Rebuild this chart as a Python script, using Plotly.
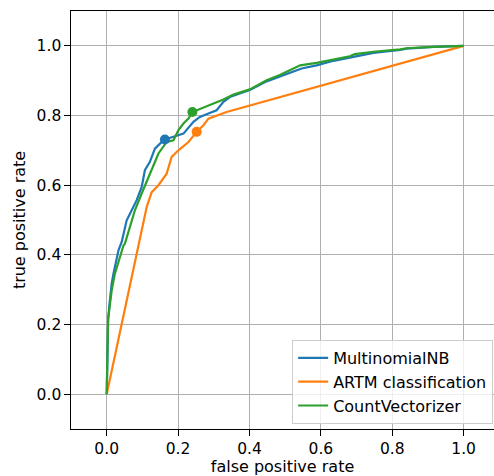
import plotly.graph_objects as go

# ---- data ----
nb_fpr = [0.0, 0.002, 0.004, 0.007, 0.010, 0.014, 0.019, 0.024, 0.028, 0.033, 0.042, 0.047,
          0.056, 0.070, 0.084, 0.098, 0.107, 0.121, 0.135, 0.150, 0.163, 0.187, 0.215, 0.243,
          0.261, 0.285, 0.308, 0.327, 0.345, 0.373, 0.401, 0.448, 0.485, 0.520, 0.546, 0.588,
          0.635, 0.681, 0.747, 0.822, 0.840, 0.915, 1.0]
nb_tpr = [0.0, 0.183, 0.210, 0.250, 0.290, 0.318, 0.346, 0.370, 0.394, 0.413, 0.437, 0.461,
          0.499, 0.528, 0.557, 0.595, 0.643, 0.667, 0.705, 0.720, 0.731, 0.739, 0.748, 0.782,
          0.796, 0.806, 0.815, 0.839, 0.853, 0.863, 0.873, 0.898, 0.912, 0.925, 0.935, 0.944,
          0.957, 0.966, 0.980, 0.988, 0.992, 0.997, 1.0]

artm_fpr = [0.0, 0.082, 0.093, 0.103, 0.112, 0.126, 0.145, 0.168, 0.182, 0.201, 0.229, 0.252,
            0.271, 0.285, 0.299, 0.308, 0.336, 1.0]
artm_tpr = [0.0, 0.400, 0.451, 0.499, 0.537, 0.580, 0.600, 0.633, 0.681, 0.700, 0.724, 0.753,
            0.772, 0.791, 0.796, 0.801, 0.810, 1.0]

cv_fpr = [0.0, 0.002, 0.004, 0.007, 0.010, 0.014, 0.023, 0.030, 0.037, 0.047, 0.051, 0.065,
          0.079, 0.098, 0.121, 0.145, 0.168, 0.187, 0.201, 0.215, 0.229, 0.240, 0.327, 0.355,
          0.401, 0.448, 0.485, 0.542, 0.588, 0.635, 0.681, 0.695, 0.747, 0.822, 0.840, 0.915, 1.0]
cv_tpr = [0.0, 0.193, 0.220, 0.240, 0.270, 0.298, 0.346, 0.370, 0.394, 0.427, 0.432, 0.480,
          0.528, 0.576, 0.633, 0.691, 0.724, 0.729, 0.758, 0.777, 0.791, 0.810, 0.846, 0.860,
          0.875, 0.901, 0.916, 0.944, 0.951, 0.961, 0.970, 0.976, 0.983, 0.990, 0.993, 0.997, 1.0]

names = ["MultinomialNB", "ARTM classification", "CountVectorizer"]
colors = ["#1f77b4", "#ff7f0e", "#2ca02c"]
point_fpr = [0.163, 0.252, 0.240]
point_tpr = [0.731, 0.753, 0.810]
ticks = [0.0, 0.2, 0.4, 0.6, 0.8, 1.0]
tick_text = ["0.0", "0.2", "0.4", "0.6", "0.8", "1.0"]

FONT = "DejaVu Sans"
fig = go.Figure()
for xs, ys, nm, c in zip([nb_fpr, artm_fpr, cv_fpr], [nb_tpr, artm_tpr, cv_tpr], names, colors):
    fig.add_trace(go.Scatter(x=xs, y=ys, mode="lines", name=nm,
                             line=dict(color=c, width=2.2)))
for px_, py_, c in zip(point_fpr, point_tpr, colors):
    fig.add_trace(go.Scatter(x=[px_], y=[py_], mode="markers", showlegend=False,
                             marker=dict(color=c, size=10)))

axis_common = dict(
    tickvals=ticks, ticktext=tick_text, ticks="outside", ticklen=5.5, tickwidth=1.3,
    tickcolor="black", showline=True, linecolor="black", linewidth=1.3,
    showgrid=True, gridcolor="#b0b0b0", gridwidth=1.3, zeroline=False,
    tickfont=dict(family=FONT, size=15.5, color="black"),
)
fig.update_layout(
    width=494, height=476,
    margin=dict(l=71, r=0, t=11, b=47),
    plot_bgcolor="white", paper_bgcolor="white",
    font=dict(family=FONT, size=16, color="black"),
    xaxis=dict(range=[-0.1, 1.085], mirror=True,
               title=dict(text="false positive rate", font=dict(family=FONT, size=16), standoff=4),
               **axis_common),
    yaxis=dict(range=[-0.1, 1.1], mirror=False,
               title=dict(text="true positive rate", font=dict(family=FONT, size=16), standoff=6),
               **axis_common),
    legend=dict(x=0.998, y=0.012, xanchor="right", yanchor="bottom",
                bgcolor="rgba(255,255,255,0.8)", bordercolor="#cccccc", borderwidth=1,
                tracegroupgap=0,
                font=dict(family=FONT, size=16, color="black")),
    showlegend=True,
)

fig.write_html("out.html", config={"displayModeBar": False},
               post_script="document.body.style.margin='0';")
